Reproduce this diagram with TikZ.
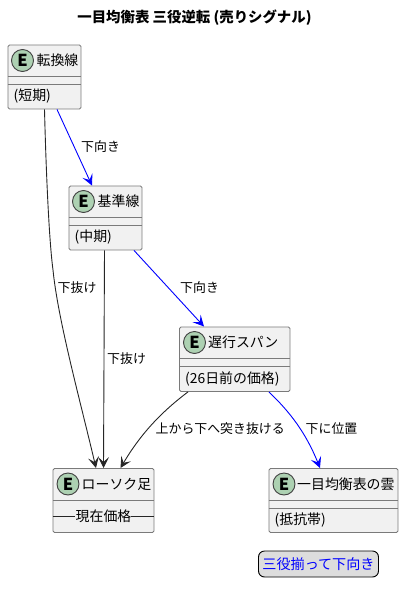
\documentclass[tikz,border=0pt]{standalone}
\usepackage{fontspec}
\setmainfont{Noto Sans CJK JP}
\usetikzlibrary{arrows.meta}
\definecolor{boxfill}{HTML}{F1F1F1}
\definecolor{boxline}{HTML}{7A7A7A}
\definecolor{spot}{HTML}{ADD1B2}
\definecolor{legfill}{HTML}{DDDDDD}
\definecolor{pureblue}{HTML}{0000FF}
\tikzset{
  ent/.style={draw=boxline,fill=boxfill,rounded corners=1.5pt,line width=.9pt,inner sep=0pt,anchor=north west},
  sep/.style={draw=boxline,line width=.9pt},
  badge/.style={circle,draw=black!75,fill=spot,line width=.9pt,minimum size=22pt,inner sep=0pt,font=\fontsize{16.5}{16.5}\selectfont\bfseries},
  lbl/.style={font=\fontsize{13.9}{15}\selectfont,inner sep=0pt,anchor=west},
  edgelbl/.style={font=\fontsize{12.9}{14}\selectfont,inner sep=0pt,anchor=west},
  conn/.style={line width=.9pt,-{Stealth[length=11pt,width=11pt,inset=5pt]}},
  blueconn/.style={conn,draw=pureblue},
  blackconn/.style={conn,draw=black!85}
}
\begin{document}
\begin{tikzpicture}[x=1pt,y=-1pt]
\useasboundingbox (0,0) rectangle (403,595);
\node[font=\fontsize{14.4}{15}\selectfont\bfseries,inner sep=0pt] (title) at (194.5,18) {一目均衡表 三役逆転 (売りシグナル)};

% entities
\node[ent,minimum width=73pt,minimum height=64pt] (A) at (7.5,44.5) {};
\draw[sep] (7.5,76) -- (80.5,76) (7.5,84) -- (80.5,84);
\node[badge] (Ab) at (22.5,60.5) {E};
\node[lbl] (At) at (36.5,60) {転換線};
\node[lbl] (Am) at (13.5,96) {(短期)};

\node[ent,minimum width=73pt,minimum height=64pt] (B) at (68.5,185.5) {};
\draw[sep] (68.5,217) -- (141.5,217) (68.5,225) -- (141.5,225);
\node[badge] (Bb) at (83.5,201.5) {E};
\node[lbl] (Bt) at (97.5,201) {基準線};
\node[lbl] (Bm) at (74.5,237) {(中期)};

\node[ent,minimum width=110.5pt,minimum height=64.5pt] (C) at (179,326.5) {};
\draw[sep] (179,358.5) -- (289.5,358.5) (179,366.5) -- (289.5,366.5);
\node[badge] (Cb) at (194.5,342.5) {E};
\node[lbl] (Ct) at (208,342.5) {遅行スパン};
\node[lbl] (Cm) at (185,379) {(26日前の価格)};

\node[ent,minimum width=101pt,minimum height=64pt] (D) at (52.5,468) {};
\draw[sep] (52.5,500) -- (153.5,500);
\draw[draw=black!85,line width=.8pt] (52.5,516) -- (75,516) (131,516) -- (153.5,516);
\node[badge] (Db) at (68,484) {E};
\node[lbl] (Dt) at (81.5,484) {ローソク足};
\node[lbl] (Dm) at (75.5,516) {現在価格};

\node[ent,minimum width=129pt,minimum height=64pt] (E) at (268.5,468) {};
\draw[sep] (268.5,500) -- (397.5,500) (268.5,508) -- (397.5,508);
\node[badge] (Eb) at (284,484) {E};
\node[lbl] (Et) at (297,484) {一目均衡表の雲};
\node[lbl] (Em) at (274.5,520.5) {(抵抗帯)};

% connectors
\draw[blackconn] ([xshift=37pt]A.south west) .. controls (46,170) and (49,240) .. (53,270) .. controls (58,320) and (80,400) .. ([xshift=43.5pt]D.north west);
\draw[blueconn] ([xshift=49.5pt]A.south west) -- ([xshift=23.5pt]B.north west);
\draw[blackconn] ([xshift=36pt]B.south west) -- ([xshift=51pt]D.north west);
\draw[blueconn] ([xshift=65.5pt]B.south west) -- ([xshift=25pt]C.north west);
\draw[blackconn] ([xshift=9pt]C.south west) .. controls (160,413) and (140,435) .. ([xshift=68pt]D.north west);
\draw[blueconn] ([xshift=-21.5pt]C.south east) .. controls (290,412) and (306,433) .. ([xshift=51.5pt]E.north west);

% edge labels
\node[edgelbl] (l1) at (81,147) {下向き};
\node[edgelbl] (l2) at (57.5,288) {下抜け};
\node[edgelbl] (l3) at (180,288) {下向き};
\node[edgelbl] (l4) at (107,359) {下抜け};
\node[edgelbl] (l5) at (155.5,429) {上から下へ突き抜ける};
\node[edgelbl] (l6) at (305.5,429) {下に位置};

% legend
\node[draw=black,fill=legfill,rounded corners=6pt,line width=.9pt,minimum width=120pt,minimum height=26pt,inner sep=0pt,text=pureblue,font=\fontsize{14.1}{15}\selectfont] (leg) at (318.5,564) {三役揃って下向き};
\end{tikzpicture}
\end{document}
